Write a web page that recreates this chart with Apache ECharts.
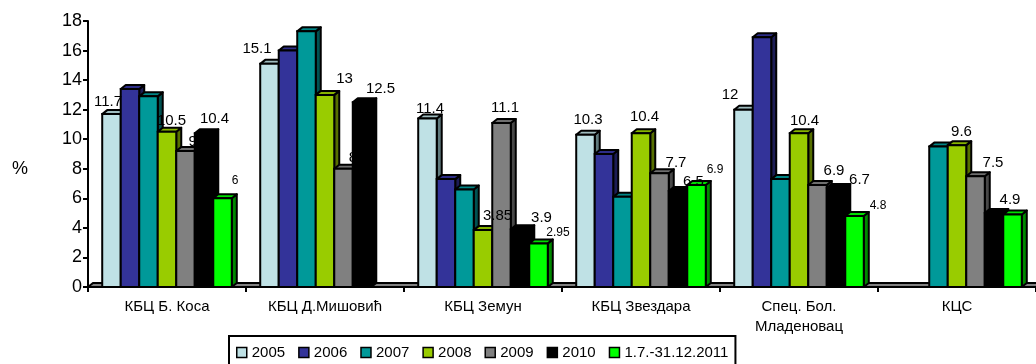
<!DOCTYPE html>
<html>
<head>
<meta charset="utf-8">
<script src="https://cdn.jsdelivr.net/npm/echarts@6/dist/echarts.min.js"></script>
<style>
  html, body { margin: 0; padding: 0; background: #fff; }
  #chart { width: 1036px; height: 364px; }
</style>
</head>
<body>
<div id="chart"></div>
<script>
// Categories (hospitals) and yearly values, %
const categories = ['КБЦ Б. Коса', 'КБЦ Д.Мишовић', 'КБЦ Земун', 'КБЦ Звездара', 'Спец. Бол.\nМладеновац', 'КЦС'];
const seriesNames = ['2005', '2006', '2007', '2008', '2009', '2010', '1.7.-31.12.2011'];

const v2005 = [11.7, 15.1, 11.4, 10.3, 12, null];
const v2006 = [13.4, 16.0, 7.3, 9.0, 16.9, null];
const v2007 = [12.9, 17.3, 6.6, 6.1, 7.3, 9.5];
const v2008 = [10.5, 13, 3.85, 10.4, 10.4, 9.6];
const v2009 = [9.2, 8, 11.1, 7.7, 6.9, 7.5];
const v2010 = [10.4, 12.5, 3.9, 6.5, 6.7, 5.0];
const v2011 = [6, null, 2.95, 6.9, 4.8, 4.9];
const seriesValues = [v2005, v2006, v2007, v2008, v2009, v2010, v2011];

const yMin = 0, yMax = 18, yStep = 2;

// Face colours per series: [front, top, side]
const faces = [
  ['#bfe1e5', '#9fbcbf', '#5f7a7d'],
  ['#333399', '#2d2d88', '#1c1c55'],
  ['#009999', '#008585', '#005252'],
  ['#99cc00', '#86b300', '#566f00'],
  ['#808080', '#6e6e6e', '#484848'],
  ['#000000', '#000000', '#000000'],
  ['#00ff00', '#00dc00', '#008a00']
];

// Value labels: which points carry one, and a small nudge [dx, dy] for each
const labelShift = {
  '0,0': [-6, 0], '3,0': [2, 1], '4,0': [11, 3], '5,0': [8, -2], '6,0': [10, -6],
  '0,1': [-15, -3], '3,1': [17, -4], '4,1': [7, 1], '5,1': [16, -1],
  '0,2': [0, 2], '3,2': [12, -2], '4,2': [1, -3], '5,2': [19, 0], '6,2': [17, 1],
  '0,3': [0, -3], '3,3': [1, -4], '4,3': [14, 2], '5,3': [13, 3], '6,3': [16, -3],
  '0,4': [-16, -3], '3,4': [3, 0], '4,4': [14, -2], '5,4': [21, 4], '6,4': [21, 2],
  '3,5': [2, -1], '4,5': [15, -1], '6,5': [-5, -3]
};
const smallLabels = ['6,0', '6,2', '6,3', '6,4'];

const FONT = '"Liberation Sans", Arial, sans-serif';
const DX = 5, DY = 4;           // depth of the 3D bars
const GROUP = 0.82;             // share of a category used by its bar cluster
const N = seriesNames.length;
const LW = 2;                   // outline width

function barItem(params, api) {
  const ci = api.value(0);
  const v = api.value(1);
  if (v == null || isNaN(v)) return null;
  const s = params.seriesIndex - 1;
  const base = api.coord([ci, 0]);
  const top = api.coord([ci, v]);
  const band = api.size([1, 0])[0];
  const gw = band * GROUP;
  const bw = gw / N;
  const x0 = base[0] - gw / 2 + s * bw;
  const x1 = x0 + bw;
  const yb = base[1], yt = top[1];
  const [cf, ct, cs] = faces[s];
  const children = [
    { type: 'polygon', z2: s * 3,
      shape: { points: [[x1, yb], [x1 + DX, yb - DY], [x1 + DX, yt - DY], [x1, yt]] },
      style: { fill: cs, stroke: '#000', lineWidth: LW, lineJoin: 'round' } },
    { type: 'polygon', z2: s * 3 + 1,
      shape: { points: [[x0, yt], [x0 + DX, yt - DY], [x1 + DX, yt - DY], [x1, yt]] },
      style: { fill: ct, stroke: '#000', lineWidth: LW, lineJoin: 'round' } },
    { type: 'rect', z2: s * 3 + 2,
      shape: { x: x0, y: yt, width: bw, height: yb - yt },
      style: { fill: cf, stroke: '#000', lineWidth: LW } }
  ];
  const key = s + ',' + ci;
  if (labelShift[key]) {
    const small = smallLabels.indexOf(key) >= 0;
    const [ox, oy] = labelShift[key];
    children.push({
      type: 'text', z2: 100,
      x: (x0 + x1) / 2 + DX / 2 + ox,
      y: yt - 12 + oy,
      style: {
        text: String(v),
        font: (small ? 12 : 15) + 'px ' + FONT,
        fill: '#000', align: 'center', verticalAlign: 'middle'
      }
    });
  }
  return { type: 'group', children };
}

// Grey 3D floor along the category axis
function floorItem(params, api) {
  const cs = params.coordSys;
  const y0 = api.coord([0, 0])[1];
  const xa = cs.x, xb = cs.x + cs.width;
  return {
    type: 'polygon', z2: -10,
    shape: { points: [[xa, y0], [xa + DX, y0 - DY], [xb + DX, y0 - DY], [xb, y0]] },
    style: { fill: '#808080', stroke: '#000', lineWidth: LW }
  };
}

const series = [{
  type: 'custom', name: 'floor', renderItem: floorItem,
  data: [[0, 0]], encode: { x: 0, y: 1 }, silent: true
}];
seriesValues.forEach((vals, s) => {
  series.push({
    type: 'custom',
    name: seriesNames[s],
    renderItem: barItem,
    itemStyle: { color: faces[s][0] },
    encode: { x: 0, y: 1 },
    data: vals.map((v, i) => [i, v == null ? NaN : v])
  });
});

const chart = echarts.init(document.getElementById('chart'), null, { renderer: 'canvas' });
chart.setOption({
  animation: false,
  backgroundColor: '#fff',
  grid: { left: 88, top: 21, width: 954, height: 266 },
  xAxis: {
    type: 'category',
    data: categories,
    axisLine: { lineStyle: { color: '#000', width: 2 } },
    axisTick: { show: true, length: 5, lineStyle: { color: '#000', width: 2 } },
    axisLabel: { color: '#000', fontFamily: FONT, fontSize: 15, lineHeight: 20, margin: 10 },
    splitLine: { show: false }
  },
  yAxis: {
    type: 'value',
    min: yMin, max: yMax, interval: yStep,
    axisLine: { show: true, lineStyle: { color: '#000', width: 2 } },
    axisTick: { show: true, length: 5, lineStyle: { color: '#000', width: 2 } },
    axisLabel: { color: '#000', fontFamily: FONT, fontSize: 18, margin: 6 },
    splitLine: { show: false }
  },
  legend: {
    data: seriesNames,
    left: 229, top: 336,
    orient: 'horizontal',
    icon: 'rect',
    itemWidth: 10, itemHeight: 10,
    itemGap: 13,
    itemStyle: { borderColor: '#000', borderWidth: 1.5 },
    textStyle: { color: '#000', fontFamily: FONT, fontSize: 15 },
    borderColor: '#000', borderWidth: 2,
    padding: [9, 7, 12, 7],
    selectedMode: false
  },
  graphic: [{
    type: 'text', left: 12, top: 160,
    style: { text: '%', font: '18px ' + FONT, fill: '#000' }
  }],
  series
});
</script>
</body>
</html>
